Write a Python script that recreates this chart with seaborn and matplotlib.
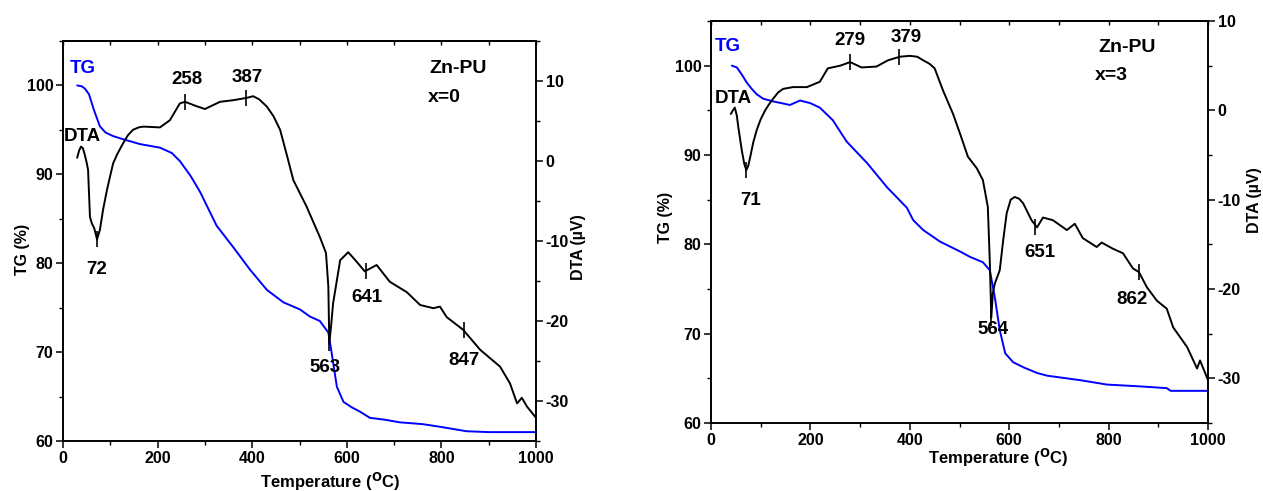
import numpy as np
import pandas as pd
import matplotlib
matplotlib.use("Agg")
import matplotlib.pyplot as plt
import seaborn as sns
from matplotlib.ticker import MultipleLocator

# ---------------- data ----------------
# Panel x=0
t_tg0 = [30, 40, 47, 55, 65, 78, 90, 106, 130, 163, 205, 230, 247, 270, 290, 325, 360,
         395, 431, 466, 501, 522, 543, 561, 568, 579, 593, 610, 628, 649, 680, 712,
         760, 797, 853, 900, 1000]
tg0 = [100, 99.9, 99.6, 99.0, 97.3, 95.4, 94.7, 94.3, 93.9, 93.4, 93.0, 92.4, 91.5,
       89.8, 88.0, 84.2, 81.8, 79.3, 77.0, 75.6, 74.8, 74.0, 73.5, 72.2, 69.9, 66.1,
       64.4, 63.8, 63.3, 62.6, 62.4, 62.1, 61.9, 61.6, 61.1, 61.0, 61.0]

t_dta0 = [30, 34, 38, 42, 46, 50, 53, 57, 61, 66, 72, 78, 85, 93, 100, 106, 115, 127,
          137, 148, 160, 170, 205, 226, 247, 258, 280, 300, 332, 360, 389, 402, 415,
          431, 445, 459, 473, 487, 515, 529, 543, 556, 561, 563, 567, 571, 586, 603,
          621, 638, 663, 691, 727, 755, 783, 797, 811, 846, 882, 924, 945, 960, 970,
          981, 1000]
dta0 = [0.4, 1.3, 1.8, 1.6, 0.8, -0.2, -1.1, -7.0, -7.8, -8.4, -9.8, -8.6, -6.0, -3.6,
        -1.8, -0.3, 0.9, 2.2, 3.2, 3.9, 4.2, 4.3, 4.2, 5.1, 7.2, 7.4, 6.9, 6.5, 7.4,
        7.6, 7.9, 8.1, 7.7, 6.8, 5.6, 3.9, 0.8, -2.4, -5.7, -7.6, -9.5, -11.5, -15.7,
        -22.8, -20.5, -17.8, -12.4, -11.4, -12.6, -13.8, -13.0, -15.1, -16.4, -18.0,
        -18.4, -18.2, -19.5, -21.1, -23.6, -25.7, -27.8, -30.3, -29.6, -30.7, -32.1]
peaks0_t = [72, 258, 387, 563, 641, 847]
peaks0_v = [-9.8, 7.4, 7.9, -22.8, -13.8, -21.1]
labels0 = ["72", "258", "387", "563", "641", "847"]

# Panel x=3
t_tg3 = [42, 52, 62, 72, 82, 92, 105, 125, 159, 179, 200, 219, 245, 273, 314, 354,
         394, 407, 427, 461, 501, 521, 547, 561, 571, 581, 592, 600, 608, 630, 656,
         676, 742, 797, 863, 917, 925, 1000]
tg3 = [100, 99.8, 99.0, 98.1, 97.4, 96.8, 96.3, 96.0, 95.6, 96.1, 95.8, 95.3, 93.9,
       91.5, 89.1, 86.4, 84.1, 82.7, 81.6, 80.3, 79.2, 78.6, 78.0, 77.1, 74.1, 70.4,
       67.8, 67.3, 66.8, 66.2, 65.6, 65.3, 64.8, 64.3, 64.1, 63.9, 63.6, 63.6]

t_dta3 = [40, 44, 48, 52, 55, 62, 67, 71, 75, 79, 85, 92, 100, 109, 117, 125, 135, 145,
          165, 193, 219, 235, 260, 280, 303, 333, 356, 380, 400, 415, 427, 440, 450,
          467, 487, 501, 517, 535, 547, 557, 561, 564, 567, 571, 581, 588, 595, 603,
          611, 620, 628, 645, 656, 668, 688, 716, 732, 748, 776, 786, 809, 829, 849,
          861, 877, 897, 917, 930, 958, 978, 984, 1000]
dta3 = [-0.4, 0.0, 0.3, -0.6, -1.9, -4.5, -6.0, -6.7, -6.2, -5.2, -3.6, -2.2, -1.0,
        0.0, 0.7, 1.3, 2.0, 2.4, 2.6, 2.6, 3.2, 4.7, 5.0, 5.4, 4.8, 4.9, 5.6, 6.0, 6.1,
        6.0, 5.6, 5.2, 4.7, 2.2, -0.4, -2.6, -5.2, -6.5, -7.8, -10.8, -17.0, -23.2,
        -20.5, -19.4, -17.9, -14.5, -11.5, -10.0, -9.7, -9.9, -10.4, -12.3, -13.1,
        -12.0, -12.3, -13.4, -12.7, -14.3, -15.3, -14.8, -15.5, -16.0, -17.7, -18.1,
        -19.8, -21.3, -22.2, -24.3, -26.5, -28.9, -28.0, -30.2]
peaks3_t = [71, 279, 379, 564, 651, 862]
peaks3_v = [-6.7, 5.4, 6.0, -23.2, -13.1, -18.1]
labels3 = ["71", "279", "379", "564", "651", "862"]

# ---------------- style ----------------
sns.set_style("ticks")
plt.rcParams["font.family"] = ["Liberation Sans", "DejaVu Sans"]
plt.rcParams["font.weight"] = "bold"
plt.rcParams["axes.labelweight"] = "bold"
plt.rcParams["axes.linewidth"] = 1.2
plt.rcParams["axes.unicode_minus"] = False
plt.rcParams["mathtext.default"] = "regular"
for k in ["text.color", "axes.labelcolor", "xtick.color", "ytick.color",
          "axes.edgecolor"]:
    plt.rcParams[k] = "black"

fig = plt.figure(figsize=(12.63, 4.91), dpi=100)
W, H = 1263, 491

panels = [
    dict(rect=[63 / W, 1 - 441 / H, (536 - 63) / W, (441 - 41) / H],
         t_tg=t_tg0, tg=tg0, t_dta=t_dta0, dta=dta0, pk_t=peaks0_t, pk_v=peaks0_v,
         labels=labels0, dta_lim=(-35, 15),
         label_pos=[(72, -13.6), (262, 10.25), (390, 10.5), (554, -25.75),
                    (642, -17.0), (848, -24.9)],
         dta_txt=(41, 3.1), tg_txt=(41, 11.6), zn=(835, 11.6), xs=(772, 8.0),
         xs_txt="x=0",
         tg_lab=(22, 249), dta_lab=(578, 247), x_lab=(330, 482)),
    dict(rect=[711 / W, 1 - 423 / H, (1208 - 711) / W, (423 - 21) / H],
         t_tg=t_tg3, tg=tg3, t_dta=t_dta3, dta=dta3, pk_t=peaks3_t, pk_v=peaks3_v,
         labels=labels3, dta_lim=(-35, 10),
         label_pos=[(79, -10.1), (280, 7.8), (392, 8.2), (567, -24.5),
                    (662, -15.9), (847, -21.2)],
         dta_txt=(44, 1.3), tg_txt=(34, 7.2), zn=(837, 7.05), xs=(773, 3.9),
         xs_txt="x=3",
         tg_lab=(665, 217), dta_lab=(1255, 200), x_lab=(998, 458)),
]

all_axes = []
for p in panels:
    ax = fig.add_axes(p["rect"])
    ax2 = ax.twinx()
    all_axes += [ax, ax2]

    df_tg = pd.DataFrame({"T": p["t_tg"], "TG": p["tg"]})
    df_dta = pd.DataFrame({"T": p["t_dta"], "DTA": p["dta"]})
    sns.lineplot(data=df_tg, x="T", y="TG", ax=ax, color="#0000ff", lw=1.4,
                 estimator=None, sort=False)
    sns.lineplot(data=df_dta, x="T", y="DTA", ax=ax2, color="black", lw=1.4,
                 estimator=None, sort=False)
    ax2.plot(p["pk_t"], p["pk_v"], ls="none", marker="|", ms=11, mew=1.2,
             color="black")

    ax.set_xlim(0, 1000)
    ax.set_ylim(60, 105)
    ax2.set_ylim(*p["dta_lim"])
    ax.set_xlabel("")
    ax.set_ylabel("")
    ax2.set_ylabel("")

    ax.xaxis.set_major_locator(MultipleLocator(200))
    ax.xaxis.set_minor_locator(MultipleLocator(100))
    ax.yaxis.set_major_locator(MultipleLocator(10))
    ax.yaxis.set_minor_locator(MultipleLocator(5))
    ax2.yaxis.set_major_locator(MultipleLocator(10))
    ax2.yaxis.set_minor_locator(MultipleLocator(5))

    for a in (ax, ax2):
        for s in a.spines.values():
            s.set_visible(True)
            s.set_linewidth(1.2)
            s.set_color("black")
    ax.tick_params(axis="both", which="major", direction="out", length=5, width=1.1,
                   labelsize=11.5, pad=2, colors="black")
    ax.tick_params(axis="both", which="minor", direction="out", length=3, width=1.0,
                   colors="black")
    ax2.tick_params(axis="y", which="major", direction="out", length=5, width=1.1,
                    labelsize=11.5, pad=2, colors="black")
    ax2.tick_params(axis="y", which="minor", direction="out", length=3, width=1.0,
                    colors="black")

    top = ax.secondary_xaxis("top")
    top.xaxis.set_major_locator(MultipleLocator(200))
    top.xaxis.set_minor_locator(MultipleLocator(100))
    top.tick_params(which="both", direction="in", length=3, width=1.0,
                    labeltop=False, colors="black")
    top.spines["top"].set_linewidth(1.2)

    for (tx, ty), s in zip(p["label_pos"], p["labels"]):
        ax2.text(tx, ty, s, ha="center", va="center", fontsize=13.5,
                 fontweight="bold", color="black")
    ax2.text(*p["dta_txt"], "DTA", ha="center", va="center", fontsize=13.5,
             fontweight="bold", color="black")
    ax2.text(*p["tg_txt"], "TG", ha="center", va="center", fontsize=13.5,
             fontweight="bold", color="#0000ff")
    ax2.text(*p["zn"], "Zn-PU", ha="center", va="center", fontsize=14,
             fontweight="bold", color="black")
    ax2.text(*p["xs"], p["xs_txt"], ha="left", va="center", fontsize=14,
             fontweight="bold", color="black")

    fig.text(p["tg_lab"][0] / W, 1 - p["tg_lab"][1] / H, "TG (%)", rotation=90,
             ha="center", va="center", fontsize=11.5, fontweight="bold",
             color="black")
    fig.text(p["dta_lab"][0] / W, 1 - p["dta_lab"][1] / H, "DTA (\u00b5V)",
             rotation=90, ha="center", va="center", fontsize=11.5, fontweight="bold",
             color="black")
    fig.text(p["x_lab"][0] / W, 1 - p["x_lab"][1] / H,
             r"Temperature ($^{\mathbf{O}}$C)", ha="center", va="center",
             fontsize=12, fontweight="bold", color="black")

fig.canvas.draw()
for a in all_axes:
    for lab in a.get_xticklabels() + a.get_yticklabels():
        lab.set_fontweight("bold")

fig.savefig("out.png", dpi=100)
